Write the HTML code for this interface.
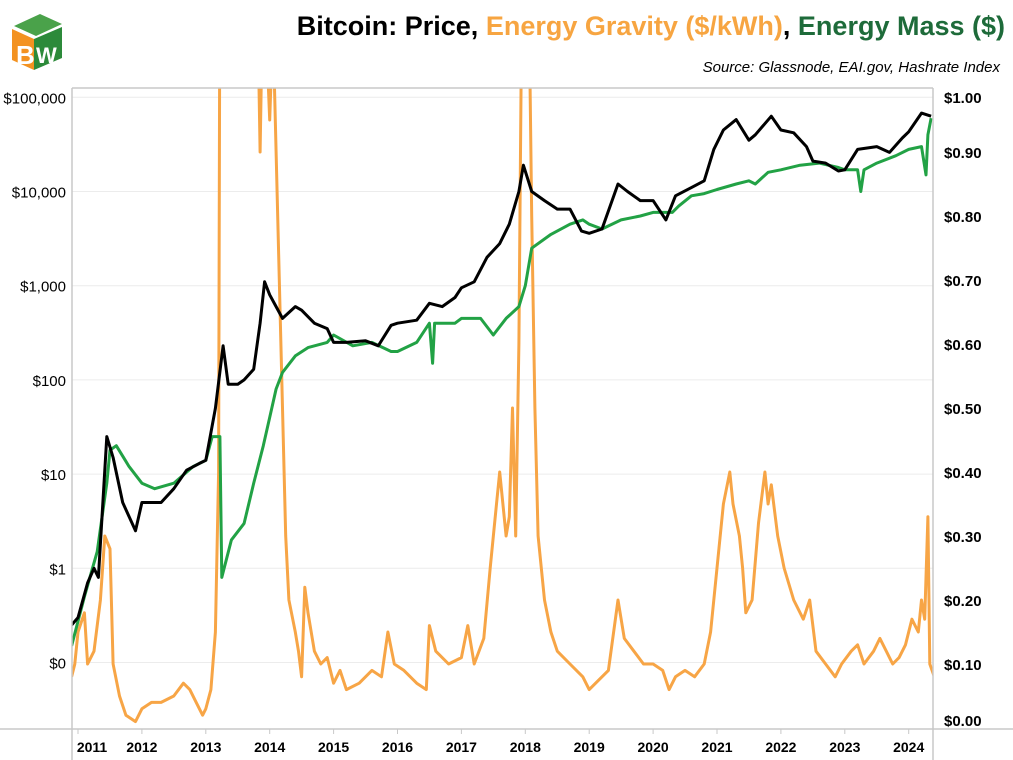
<!DOCTYPE html>
<html><head><meta charset="utf-8"><style>
body{margin:0;background:#fff;width:1013px;height:760px;overflow:hidden;font-family:"Liberation Sans",sans-serif}
svg{display:block}
</style></head><body>
<svg id="chart" width="1013" height="760" xmlns="http://www.w3.org/2000/svg">
<g>
<polygon points="12,30 36,20 62,30 62,60 38,70 12,60" fill="#fff"/>
<polygon points="12,29 34,39 34,70 12,60" fill="#f39221"/>
<polygon points="34,39 62,27 62,58 34,70" fill="#2c8a3a"/>
<polygon points="14,26 40,14 62,24 36,36" fill="#4aa24a"/>
<text x="16" y="64" font-size="26" font-weight="bold" fill="#fff" font-family="Liberation Sans">B</text>
<text x="36" y="63" font-size="22" font-weight="bold" fill="#fff" font-family="Liberation Sans">W</text>
</g>
<text x="1005" y="35" text-anchor="end" font-size="27" font-weight="bold" font-family="Liberation Sans"><tspan fill="#000">Bitcoin: Price, </tspan><tspan fill="#f7a541">Energy Gravity ($/kWh)</tspan><tspan fill="#000">, </tspan><tspan fill="#1e6b3a">Energy Mass ($)</tspan></text>
<text x="1000" y="72" text-anchor="end" font-size="15" font-style="italic" font-family="Liberation Sans">Source: Glassnode, EAI.gov, Hashrate Index</text>
<g id="grid"></g>
<g id="series"></g>
<g id="axes"></g>
</svg>
<script>
const leftTickLabels=["$100,000","$10,000","$1,000","$100","$10","$1","$0"];
const leftTickValues=[100000,10000,1000,100,10,1,0.1];
const rightTickLabels=["$1.00","$0.90","$0.80","$0.70","$0.60","$0.50","$0.40","$0.30","$0.20","$0.10","$0.00"];
const rightTickValues=[1,0.9,0.8,0.7,0.6,0.5,0.4,0.3,0.2,0.1,0];
const yearLabels=["2011","2012","2013","2014","2015","2016","2017","2018","2019","2020","2021","2022","2023","2024"];

const priceYears=[2010.9,2011.0,2011.15,2011.25,2011.32,2011.45,2011.55,2011.7,2011.9,2012.0,2012.3,2012.5,2012.7,2012.9,2013.0,2013.15,2013.27,2013.35,2013.5,2013.6,2013.75,2013.85,2013.92,2014.0,2014.1,2014.2,2014.4,2014.5,2014.7,2014.9,2015.0,2015.2,2015.5,2015.7,2015.9,2016.0,2016.3,2016.5,2016.7,2016.9,2017.0,2017.2,2017.4,2017.6,2017.75,2017.9,2017.97,2018.1,2018.3,2018.5,2018.7,2018.88,2019.0,2019.2,2019.45,2019.6,2019.8,2020.0,2020.2,2020.35,2020.6,2020.8,2020.95,2021.1,2021.3,2021.5,2021.6,2021.85,2022.0,2022.2,2022.4,2022.5,2022.7,2022.9,2023.0,2023.2,2023.5,2023.7,2023.9,2024.0,2024.2,2024.35];
const priceValues=[0.25,0.3,0.7,1,0.8,25,15,5,2.5,5,5,7,11,13,14,50,230,90,90,100,130,400,1100,800,600,450,600,550,400,350,250,250,260,230,380,400,430,650,600,750,950,1100,2000,2800,4500,10000,19000,10000,8000,6500,6500,3800,3600,4000,12000,10000,8000,8000,5000,9000,11000,13000,28000,45000,58000,35000,40000,63000,45000,42000,30000,21000,20000,16500,17000,28000,30000,26000,37000,43000,68000,63000];

const massYears=[2010.9,2011.1,2011.3,2011.45,2011.5,2011.6,2011.8,2012.0,2012.2,2012.5,2012.8,2013.0,2013.1,2013.22,2013.25,2013.4,2013.6,2013.75,2013.9,2014.0,2014.1,2014.2,2014.4,2014.6,2014.9,2015.0,2015.3,2015.6,2015.9,2016.0,2016.3,2016.5,2016.55,2016.58,2016.7,2016.9,2017.0,2017.3,2017.5,2017.7,2017.9,2018.0,2018.1,2018.4,2018.7,2018.9,2019.0,2019.2,2019.5,2019.8,2020.0,2020.3,2020.4,2020.6,2020.8,2021.0,2021.3,2021.5,2021.6,2021.8,2022.0,2022.3,2022.6,2022.9,2023.0,2023.2,2023.25,2023.3,2023.5,2023.8,2024.0,2024.2,2024.27,2024.3,2024.35];
const massValues=[0.15,0.5,1.5,8,18,20,12,8,7,8,12,14,25,25,0.8,2,3,8,20,40,80,120,180,220,250,300,230,250,200,200,250,400,150,400,400,400,450,450,300,450,600,1000,2500,3500,4500,5000,4500,4000,5000,5500,6000,6000,7000,9000,9500,10500,12000,13000,12000,16000,17000,19000,20000,18000,17000,17000,10000,17000,20000,24000,28000,30000,15000,40000,60000];

const gravityYears=[2010.9,2010.95,2011.0,2011.1,2011.15,2011.25,2011.35,2011.42,2011.5,2011.55,2011.65,2011.75,2011.9,2012.0,2012.15,2012.3,2012.5,2012.65,2012.75,2012.85,2012.95,2013.0,2013.08,2013.15,2013.2,2013.22,2013.8,2013.85,2013.9,2014.0,2014.05,2014.1,2014.2,2014.25,2014.3,2014.4,2014.45,2014.5,2014.55,2014.6,2014.7,2014.8,2014.9,2015.0,2015.1,2015.2,2015.4,2015.6,2015.75,2015.85,2015.95,2016.1,2016.3,2016.45,2016.5,2016.6,2016.8,2017.0,2017.1,2017.2,2017.35,2017.45,2017.55,2017.6,2017.7,2017.75,2017.8,2017.85,2017.9,2017.95,2018.05,2018.1,2018.15,2018.2,2018.3,2018.4,2018.5,2018.7,2018.9,2019.0,2019.1,2019.3,2019.45,2019.55,2019.7,2019.85,2020.0,2020.15,2020.25,2020.35,2020.5,2020.65,2020.8,2020.9,2021.0,2021.1,2021.2,2021.25,2021.35,2021.4,2021.45,2021.55,2021.65,2021.75,2021.8,2021.85,2021.95,2022.05,2022.2,2022.35,2022.45,2022.55,2022.7,2022.85,2022.95,2023.1,2023.2,2023.3,2023.45,2023.55,2023.65,2023.75,2023.85,2023.95,2024.05,2024.15,2024.2,2024.25,2024.3,2024.33,2024.4];
const gravityValues=[0.08,0.1,0.15,0.18,0.1,0.12,0.2,0.3,0.28,0.1,0.05,0.02,0.01,0.03,0.04,0.04,0.05,0.07,0.06,0.04,0.02,0.03,0.06,0.15,0.4,1.2,1.2,0.9,1.2,0.95,1.1,0.9,0.5,0.3,0.2,0.15,0.12,0.08,0.22,0.18,0.12,0.1,0.11,0.07,0.09,0.06,0.07,0.09,0.08,0.15,0.1,0.09,0.07,0.06,0.16,0.12,0.1,0.11,0.16,0.1,0.14,0.25,0.35,0.4,0.3,0.33,0.5,0.3,0.6,1.2,1.2,0.8,0.5,0.3,0.2,0.15,0.12,0.1,0.08,0.06,0.07,0.09,0.2,0.14,0.12,0.1,0.1,0.09,0.06,0.08,0.09,0.08,0.1,0.15,0.25,0.35,0.4,0.35,0.3,0.25,0.18,0.2,0.32,0.4,0.35,0.38,0.3,0.25,0.2,0.17,0.2,0.12,0.1,0.08,0.1,0.12,0.13,0.1,0.12,0.14,0.12,0.1,0.11,0.13,0.17,0.15,0.2,0.17,0.33,0.1,0.08];

const NS="http://www.w3.org/2000/svg";
const PL=72,PR=933,PT=88,PB=729;
function xScale(yr){return 78+(yr-2011)*63.9;}
function yLeft(v){return 662.5-94.2*Math.log10(v/0.1);}
function yRight(v){return 728-640*v;}
function mk(tag,attrs,parent){const e=document.createElementNS(NS,tag);for(const k in attrs)e.setAttribute(k,attrs[k]);parent.appendChild(e);return e;}
const grid=document.getElementById('grid'),series=document.getElementById('series'),axes=document.getElementById('axes');
mk('defs',{},document.getElementById('chart')).innerHTML='<clipPath id="pc"><rect x="'+PL+'" y="'+PT+'" width="'+(PR-PL)+'" height="'+(PB-PT)+'"/></clipPath>';
series.setAttribute('clip-path','url(#pc)');

leftTickValues.forEach((v,i)=>{
  const y=yLeft(v);
  const g=mk('line',{x1:PL,x2:PR,y1:y,y2:y,stroke:'#ececec','stroke-width':1},grid);
  
  
  const t=mk('text',{x:66,y:y+6,'text-anchor':'end','font-size':15,fill:'#000'},axes);
  t.textContent=leftTickLabels[i];
  
  
});
rightTickValues.forEach((v,i)=>{
  let y=yRight(v);
  if(v===1)y=97; if(v===0)y=720;
  const t=mk('text',{x:944,y:y+6,'font-size':15,'font-weight':'bold',fill:'#000'},axes);
  t.textContent=rightTickLabels[i];
  
  
});
const frame=[[PL,PT,PR,PT],[PL,PT,PL,760],[PR,PT,PR,760],[0,PB,1013,PB]];
frame.forEach(f=>{const l=mk('line',{x1:f[0],y1:f[1],x2:f[2],y2:f[3],stroke:'#c8c8c8','stroke-width':1.5},axes);
  
  });
yearLabels.forEach((lab,i)=>{
  const x=xScale(2011+i);
  const tk=mk('line',{x1:x,x2:x,y1:PB,y2:PB+5,stroke:'#c8c8c8'},axes);
  
  
  const t=mk('text',{x:(i===0?x+14:x),y:752,'text-anchor':'middle','font-size':14,'font-weight':'bold',fill:'#000'},axes);
  t.textContent=lab;
  
  
});
function drawLine(xs,vs,yf,color,name){
  const d=xs.map((yr,i)=>(i?'L':'M')+xScale(yr).toFixed(1)+','+yf(vs[i]).toFixed(1)).join('');
  const p=mk('path',{d:d,fill:'none',stroke:color,'stroke-width':3,'stroke-linejoin':'round'},series);
  
  
}
drawLine(gravityYears,gravityValues,yRight,'#f7a546','energy-gravity-line');
drawLine(massYears,massValues,yLeft,'#22a245','energy-mass-line');
drawLine(priceYears,priceValues,yLeft,'#000','price-line');
</script>
</body></html>
